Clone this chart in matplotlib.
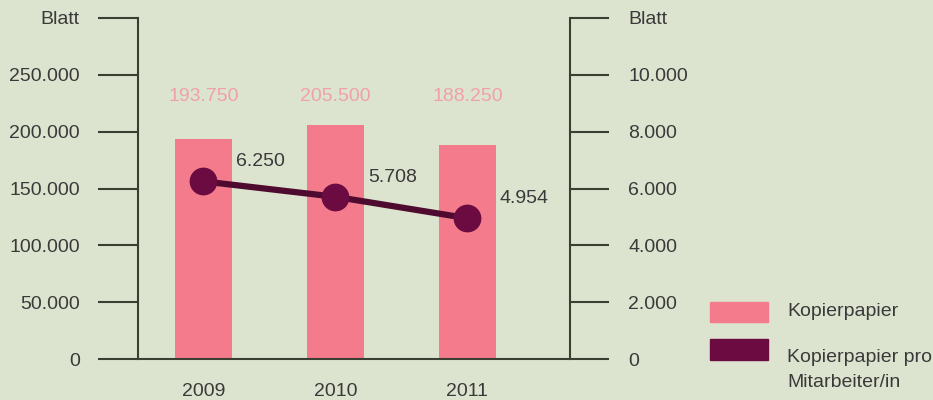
import matplotlib
matplotlib.use("Agg")
import matplotlib.pyplot as plt
from matplotlib.patches import Rectangle

years = ["2009", "2010", "2011"]
paper_total = [193750, 205500, 188250]
paper_per_employee = [6250, 5708, 4954]

left_ticks = [0, 50000, 100000, 150000, 200000, 250000, 300000]
right_ticks = [0, 2000, 4000, 6000, 8000, 10000, 12000]
series_names = ["Kopierpapier", "Kopierpapier pro\nMitarbeiter/in"]
unit = "Blatt"


def de_format(v):
    return "{:,}".format(v).replace(",", ".")


bg = "#dce4cf"
bar_color = "#f37b8c"
bar_label_color = "#f0a1a8"
line_color = "#4f0b2f"
marker_color = "#6c0b42"
axis_color = "#3a3f32"
text_color = "#3a3a3a"
fs = 14

plt.rcParams["font.family"] = ["Liberation Sans", "DejaVu Sans"]

fig = plt.figure(figsize=(9.33, 4.0), dpi=100, facecolor=bg)
ax = fig.add_axes([138 / 933, 41 / 400, 432 / 933, 341 / 400])
ax.set_facecolor(bg)
ax2 = ax.twinx()

x = list(range(len(years)))
ax.bar(x, paper_total, width=0.43, color=bar_color, zorder=2)
ax.set_xlim(-0.496, 2.777)
ax.set_ylim(0, 300000)
ax2.set_ylim(0, 12000)

# values above the bars, all on one row
for xi, v in zip(x, paper_total):
    ax.text(xi, 231000, de_format(v), ha="center", va="center",
            fontsize=fs, color=bar_label_color)

ax2.plot(x, paper_per_employee, color=line_color, lw=4.5, zorder=3)
ax2.plot(x, paper_per_employee, "o", ms=19, color=marker_color, zorder=4)
for xi, v in zip(x, paper_per_employee):
    ax2.annotate(de_format(v), (xi, v), xytext=(41, 14), textcoords="offset points",
                 ha="center", va="center", fontsize=fs, color=text_color)

# axes styling
for a in (ax, ax2):
    a.spines["top"].set_visible(False)
ax.spines["right"].set_visible(False)
ax2.spines["left"].set_visible(False)
ax2.spines["bottom"].set_visible(False)
for s in ("left", "bottom"):
    ax.spines[s].set_color(axis_color)
    ax.spines[s].set_linewidth(1.5)
ax2.spines["right"].set_color(axis_color)
ax2.spines["right"].set_linewidth(1.5)

ax.set_yticks(left_ticks)
ax.set_yticklabels([de_format(v) for v in left_ticks[:-1]] + [unit])
ax.tick_params(axis="y", direction="out", length=29, width=1.5, color=axis_color,
               pad=13, labelsize=fs, labelcolor=text_color)

ax2.set_yticks(right_ticks)
ax2.set_yticklabels([de_format(v) for v in right_ticks[:-1]] + [unit])
ax2.tick_params(axis="y", direction="out", length=28, width=1.5, color=axis_color,
                pad=14, labelsize=fs, labelcolor=text_color)

ax.set_xticks(x)
ax.set_xticklabels(years)
ax.tick_params(axis="x", length=0, pad=17, labelsize=fs, labelcolor=text_color)

# legend drawn in figure pixels
fig.patches.append(Rectangle((710 / 933, 78 / 400), 58 / 933, 20 / 400,
                             transform=fig.transFigure, color=bar_color))
fig.patches.append(Rectangle((710 / 933, 40 / 400), 58 / 933, 21 / 400,
                             transform=fig.transFigure, color=marker_color))
fig.text(787 / 933, 88 / 400, series_names[0], ha="left", va="center",
         fontsize=fs, color=text_color)
fig.text(787 / 933, 51 / 400, series_names[1], ha="left", va="top",
         fontsize=fs, color=text_color, linespacing=1.65)

fig.savefig("out.png", dpi=100, facecolor=bg)
